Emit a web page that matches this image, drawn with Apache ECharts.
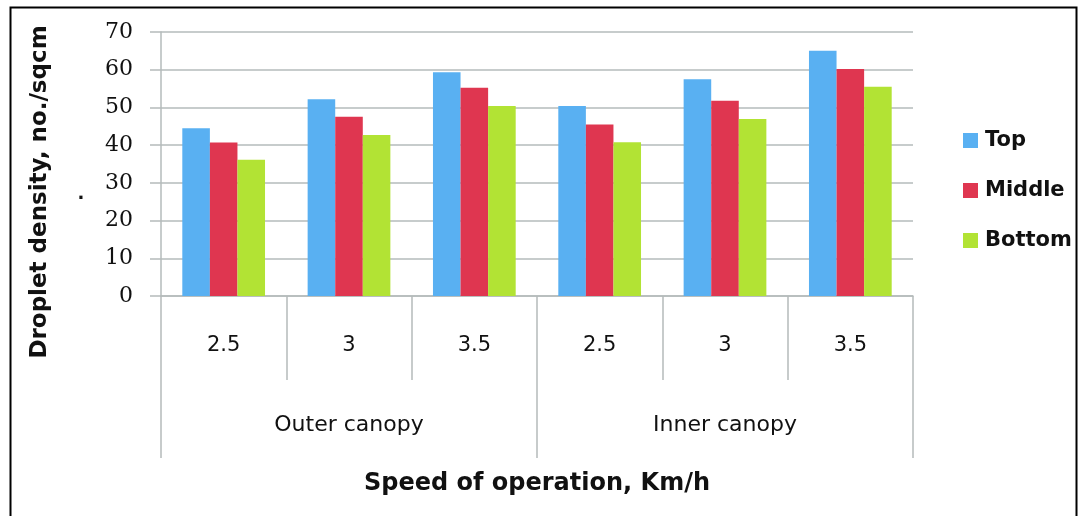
<!DOCTYPE html>
<html>
<head>
<meta charset="utf-8">
<script src="https://cdn.jsdelivr.net/npm/echarts@6/dist/echarts.min.js"></script>
<style>
  html, body { margin: 0; padding: 0; background: #fff; }
  #chart { width: 1080px; height: 516px; }
</style>
</head>
<body>
<div id="chart"></div>
<script>
// Speeds tested within each canopy zone
const speeds = ['2.5', '3', '3.5', '2.5', '3', '3.5'];
const canopies = ['Outer canopy', 'Inner canopy'];

// Droplet density (no./sqcm) at each sampling height
const topValues    = [44.5, 52.2, 59.3, 50.4, 57.5, 65.0];
const middleValues = [40.7, 47.5, 55.2, 45.5, 51.8, 60.2];
const bottomValues = [36.1, 42.7, 50.4, 40.8, 46.9, 55.5];

const yTicks = { min: 0, max: 70, interval: 10 };

const gridLine = '#b5bbbb';
const chart = echarts.init(document.getElementById('chart'));

chart.setOption({
  animation: false,
  backgroundColor: '#ffffff',
  grid: { left: 161, right: 167, top: 32, bottom: 220, containLabel: false },
  legend: {
    orient: 'vertical',
    left: 958,
    top: 125,
    itemGap: 29,
    itemWidth: 15,
    itemHeight: 15,
    icon: 'rect',
    textStyle: { fontFamily: 'DejaVu Sans', fontSize: 21, fontWeight: 'bold', color: '#111', padding: [0, 0, 0, 2] },
    data: ['Top', 'Middle', 'Bottom']
  },
  xAxis: [
    {
      type: 'category',
      data: speeds,
      position: 'bottom',
      axisLine: { show: true, lineStyle: { color: gridLine, width: 1.5 } },
      axisTick: { show: true, length: 84, lineStyle: { color: gridLine, width: 1.5 } },
      axisLabel: { margin: 39, fontFamily: 'DejaVu Sans', fontSize: 21, color: '#111' }
    },
    {
      type: 'category',
      data: canopies,
      position: 'bottom',
      axisLine: { show: false },
      axisTick: { show: true, length: 162, lineStyle: { color: gridLine, width: 1.5 } },
      axisLabel: { margin: 118, fontFamily: 'DejaVu Sans', fontSize: 22, color: '#111' },
      name: 'Speed of operation, Km/h',
      nameLocation: 'middle',
      nameGap: 176,
      nameTextStyle: { fontFamily: 'DejaVu Sans', fontSize: 24, fontWeight: 'bold', color: '#111' }
    }
  ],
  yAxis: {
    type: 'value',
    min: yTicks.min,
    max: yTicks.max,
    interval: yTicks.interval,
    axisLine: { show: true, lineStyle: { color: gridLine, width: 1.5 } },
    axisTick: { show: true, length: 11, lineStyle: { color: gridLine, width: 1.5 } },
    axisLabel: { margin: 28, fontFamily: 'DejaVu Serif', fontSize: 22, color: '#111' },
    splitLine: { show: true, lineStyle: { color: gridLine, width: 1.5 } }
  },
  series: [
    { name: 'Top', type: 'bar', xAxisIndex: 0, data: topValues, itemStyle: { color: '#59b0f2' }, barGap: '0%', barCategoryGap: '34%' },
    { name: 'Middle', type: 'bar', xAxisIndex: 0, data: middleValues, itemStyle: { color: '#df3650' } },
    { name: 'Bottom', type: 'bar', xAxisIndex: 0, data: bottomValues, itemStyle: { color: '#b2e334' } }
  ],
  graphic: [
    {
      type: 'rect',
      left: 8, top: 5,
      shape: { width: 1066, height: 520 },
      style: { fill: null, stroke: '#000', lineWidth: 2 },
      silent: true
    },
    {
      type: 'text',
      x: 40, y: 192,
      rotation: Math.PI / 2,
      style: {
        text: 'Droplet density, no./sqcm',
        fontFamily: 'DejaVu Sans', fontSize: 23, fontWeight: 'bold', fill: '#111',
        align: 'center', verticalAlign: 'middle'
      }
    },
    {
      type: 'text',
      x: 81, y: 203,
      style: { text: '.', fontFamily: 'DejaVu Sans', fontSize: 18, fontWeight: 'bold', fill: '#111', align: 'center', verticalAlign: 'bottom' }
    }
  ]
});
</script>
</body>
</html>
